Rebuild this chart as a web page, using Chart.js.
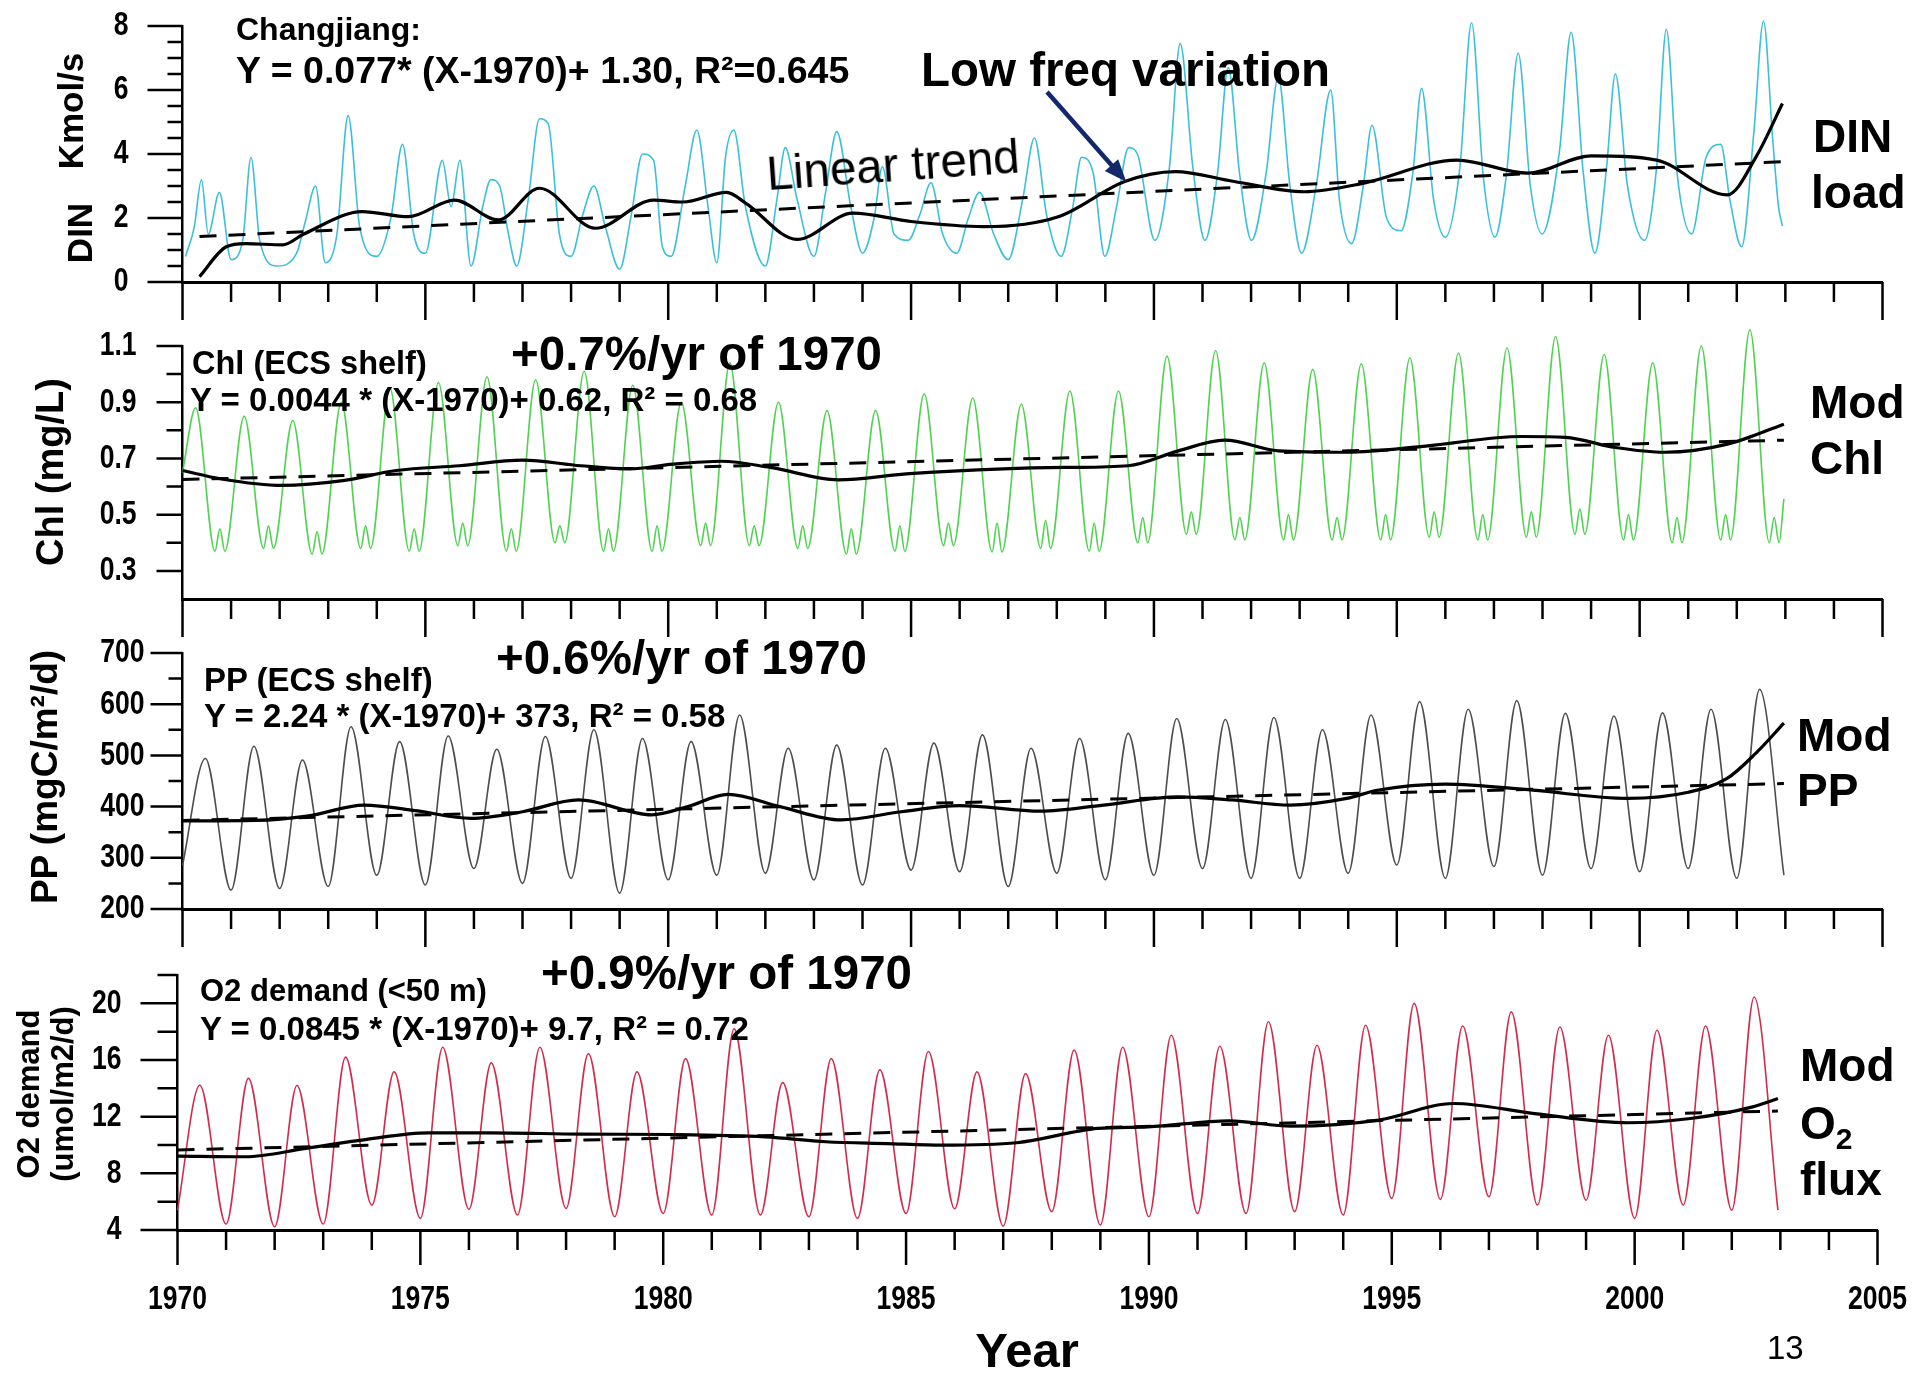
<!DOCTYPE html>
<html>
<head>
<meta charset="utf-8">
<script src="https://cdn.jsdelivr.net/npm/chart.js@4.4.1/dist/chart.umd.min.js"></script>
<style>
  body { margin: 0; background: #fff; }
  #wrap { position: relative; width: 1920px; height: 1373px; background: #fff; overflow: hidden; }
  canvas { position: absolute; }
  .t { position: absolute; white-space: nowrap; line-height: 1; color: #000;
       font-family: "Liberation Sans", Arial, Helvetica, sans-serif; font-weight: bold; }
  .n { font-weight: normal; }
  .rot { transform: translate(-50%, -50%) rotate(-90deg); }
  .c { transform: translate(-50%, 0); }
</style>
</head>
<body>
<div id="wrap">
  <canvas id="c0"></canvas>
  <canvas id="c1"></canvas>
  <canvas id="c2"></canvas>
  <canvas id="c3"></canvas>

  <!-- panel 1 -->
  <div class="t" style="left:236px;top:13px;font-size:32px">Changjiang:</div>
  <div class="t" style="left:236px;top:52px;font-size:37.5px">Y = 0.077* (X-1970)+ 1.30, R²=0.645</div>
  <div class="t" style="left:921px;top:46px;font-size:47.5px">Low freq variation</div>
  <div class="t n" style="left:893px;top:165px;font-size:47.5px;transform:translate(-50%,-50%) rotate(-4deg)">Linear trend</div>
  <div class="t" style="left:1813px;top:113px;font-size:46px">DIN</div>
  <div class="t" style="left:1811px;top:169px;font-size:46px">load</div>
  <div class="t rot" style="left:70px;top:111px;font-size:35px">Kmol/s</div>
  <div class="t rot" style="left:79px;top:233px;font-size:35px">DIN</div>

  <!-- panel 2 -->
  <div class="t" style="left:511px;top:330px;font-size:47.5px">+0.7%/yr of 1970</div>
  <div class="t" style="left:192px;top:347px;font-size:32.5px">Chl (ECS shelf)</div>
  <div class="t" style="left:190px;top:383px;font-size:33px">Y = 0.0044 * (X-1970)+ 0.62, R² = 0.68</div>
  <div class="t" style="left:1810px;top:379px;font-size:46px">Mod</div>
  <div class="t" style="left:1810px;top:435px;font-size:46px">Chl</div>
  <div class="t rot" style="left:50px;top:472px;font-size:38px">Chl (mg/L)</div>

  <!-- panel 3 -->
  <div class="t" style="left:496px;top:634px;font-size:47.5px">+0.6%/yr of 1970</div>
  <div class="t" style="left:204px;top:663px;font-size:33px">PP (ECS shelf)</div>
  <div class="t" style="left:204px;top:699px;font-size:33px">Y = 2.24 * (X-1970)+ 373, R² = 0.58</div>
  <div class="t" style="left:1797px;top:712px;font-size:46px">Mod</div>
  <div class="t" style="left:1797px;top:767px;font-size:46px">PP</div>
  <div class="t rot" style="left:44px;top:777px;font-size:37px">PP (mgC/m²/d)</div>

  <!-- panel 4 -->
  <div class="t" style="left:541px;top:949px;font-size:47.5px">+0.9%/yr of 1970</div>
  <div class="t" style="left:200px;top:975px;font-size:31px">O2 demand (&lt;50 m)</div>
  <div class="t" style="left:200px;top:1012px;font-size:33px">Y = 0.0845 * (X-1970)+ 9.7, R² = 0.72</div>
  <div class="t" style="left:1800px;top:1042px;font-size:46px">Mod</div>
  <div class="t" style="left:1800px;top:1100px;font-size:46px">O<sub style="font-size:30px">2</sub></div>
  <div class="t" style="left:1800px;top:1156px;font-size:46px">flux</div>
  <div class="t rot" style="left:28px;top:1094px;font-size:31px">O2 demand</div>
  <div class="t rot" style="left:62px;top:1094px;font-size:31px">(umol/m2/d)</div>

  <!-- x axis -->
  <div class="t c" style="left:1027px;top:1326px;font-size:49px">Year</div>
  <div class="t n" style="left:1767px;top:1331px;font-size:33px">13</div>
</div>

<script>
const FONT = '"Liberation Sans", Arial, Helvetica, sans-serif';

const years = [1970, 1971, 1972, 1973, 1974, 1975, 1976, 1977, 1978, 1979,
               1980, 1981, 1982, 1983, 1984, 1985, 1986, 1987, 1988, 1989,
               1990, 1991, 1992, 1993, 1994, 1995, 1996, 1997, 1998, 1999,
               2000, 2001, 2002];
const yearTicks = [1970, 1975, 1980, 1985, 1990, 1995, 2000, 2005];

// DIN load (Kmol/s)
const dinT = [1970.06, 1970.24, 1970.39, 1970.53, 1970.76, 1971.0, 1971.24, 1971.41, 1971.59, 1971.94,
              1972.35, 1972.53, 1972.74, 1972.94, 1973.18, 1973.41, 1973.65, 1974.0, 1974.29, 1974.53,
              1974.76, 1975.0, 1975.35, 1975.53, 1975.71, 1975.94, 1976.18, 1976.35, 1976.53, 1976.71,
              1976.88, 1977.12, 1977.35, 1977.53, 1977.76, 1978.0, 1978.24, 1978.47, 1978.71, 1979.0,
              1979.24, 1979.47, 1979.7, 1979.88, 1980.06, 1980.35, 1980.59, 1980.82, 1981.0, 1981.18,
              1981.35, 1981.59, 1982.0, 1982.24, 1982.41, 1982.65, 1983.0, 1983.24, 1983.47, 1983.76,
              1984.0, 1984.24, 1984.41, 1984.65, 1984.94, 1985.18, 1985.41, 1985.65, 1985.94, 1986.18,
              1986.41, 1986.7, 1987.0, 1987.3, 1987.54, 1987.79, 1988.09, 1988.33, 1988.51, 1988.75,
              1988.99, 1989.23, 1989.48, 1989.66, 1990.02, 1990.32, 1990.54, 1990.8, 1991.05, 1991.31,
              1991.53, 1991.77, 1992.01, 1992.31, 1992.56, 1992.8, 1993.04, 1993.34, 1993.64, 1993.82,
              1994.07, 1994.31, 1994.49, 1994.79, 1995.09, 1995.33, 1995.51, 1995.76, 1996.0, 1996.3,
              1996.54, 1996.78, 1997.02, 1997.26, 1997.5, 1997.75, 1997.99, 1998.35, 1998.59, 1998.84,
              1999.08, 1999.32, 1999.5, 1999.75, 2000.1, 2000.35, 2000.55, 2000.77, 2001.07, 2001.37,
              2001.67, 2001.86, 2002.1, 2002.35, 2002.55, 2002.74, 2002.86, 2002.94];
const dinV = [0.8, 1.7, 3.2, 1.5, 2.8, 0.7, 1.3, 3.9, 1.3, 0.5,
              0.9, 1.9, 3.0, 0.6, 1.5, 5.2, 1.7, 0.8, 2.0, 4.3,
              1.5, 0.9, 3.8, 2.35, 3.8, 0.5, 2.35, 3.2, 3.0, 1.5,
              0.5, 2.6, 5.1, 4.95, 1.5, 0.8, 2.1, 3.0, 1.7, 0.4,
              2.1, 4.0, 3.8, 1.1, 0.8, 3.0, 4.75, 2.35, 0.6, 3.9,
              4.75, 2.35, 0.5, 2.6, 4.2, 2.6, 0.8, 2.8, 4.7, 2.35,
              0.9, 2.0, 3.6, 1.5, 1.3, 2.1, 3.1, 1.5, 0.9, 2.0,
              2.8, 1.5, 0.7, 2.6, 4.5, 2.1, 0.8, 2.35, 3.9, 3.4,
              0.8, 2.35, 4.2, 4.0, 1.3, 3.6, 7.45, 3.6, 1.3, 3.4,
              6.7, 3.3, 1.3, 3.4, 6.4, 3.0, 0.9, 3.0, 6.0, 2.55,
              1.2, 3.0, 4.9, 2.0, 1.6, 3.4, 6.05, 2.55, 1.4, 3.6,
              8.1, 3.3, 1.4, 3.4, 7.15, 3.0, 1.5, 4.1, 7.8, 3.4,
              0.9, 3.6, 6.5, 3.0, 1.3, 3.6, 7.9, 3.4, 1.5, 3.9,
              4.3, 2.55, 1.1, 4.65, 8.15, 4.45, 2.35, 1.75];
const dinLfT = [1970.35, 1970.9, 1971.3, 1972.06, 1972.5, 1973.7, 1974.65, 1975.6, 1976.5, 1977.35,
                1978.5, 1979.7, 1980.3, 1981.2, 1981.6, 1982.65, 1983.8, 1985.0, 1986.5, 1988.03,
                1989.4, 1990.44, 1991.65, 1993.1, 1994.3, 1996.24, 1997.7, 1999.0, 2000.35, 2001.8,
                2002.4, 2002.94];
const dinLf = [0.17, 1.1, 1.2, 1.16, 1.5, 2.2, 2.04, 2.56, 1.94, 2.93,
               1.68, 2.56, 2.5, 2.8, 2.46, 1.33, 2.15, 1.89, 1.73, 2.04,
               3.14, 3.45, 3.14, 2.82, 3.08, 3.81, 3.4, 3.94, 3.81, 2.72,
               3.92, 5.58];
const dinTrendT = [1970.35, 2002.95];
const dinTrend = [1.42, 3.76];
const dinTicks = [0, 2, 4, 6, 8];

// modelled Chl (mg/L): spring peak, then the two autumn dips with a small spike between
const chlPeak = [0.88, 0.85, 0.835, 0.90, 0.95, 0.97, 0.99, 0.98, 1.01, 0.96,
                 0.90, 1.04, 0.90, 0.87, 0.87, 0.93, 0.915, 0.893, 0.94, 0.94,
                 1.064, 1.084, 1.04, 1.017, 1.037, 1.058, 1.075, 1.093, 1.134, 1.07,
                 1.04, 1.10, 1.158];
const chlLow = [0.37, 0.38, 0.36, 0.38, 0.37, 0.39, 0.37, 0.40, 0.37, 0.37,
                0.39, 0.39, 0.38, 0.36, 0.37, 0.39, 0.367, 0.38, 0.37, 0.40,
                0.43, 0.41, 0.41, 0.41, 0.41, 0.42, 0.41, 0.42, 0.43, 0.41,
                0.40, 0.41, 0.40];
const chlSpike = [0.45, 0.46, 0.44, 0.46, 0.45, 0.47, 0.45, 0.46, 0.45, 0.46,
                  0.47, 0.46, 0.46, 0.45, 0.46, 0.47, 0.47, 0.48, 0.47, 0.49,
                  0.51, 0.49, 0.50, 0.49, 0.50, 0.51, 0.50, 0.51, 0.52, 0.50,
                  0.49, 0.50, 0.49];
const chlLfT = [1970.0, 1970.8, 1972.04, 1973.3, 1974.4, 1975.7, 1977.0, 1978.2, 1979.2, 1980.1,
                1981.1, 1982.1, 1983.5, 1984.9, 1986.9, 1988.2, 1989.47, 1990.5, 1991.46, 1992.56,
                1993.97, 1995.64, 1997.57, 1998.47, 1999.5, 2000.52, 2001.81, 2002.97];
const chlLf = [0.657, 0.627, 0.604, 0.621, 0.657, 0.674, 0.694, 0.674, 0.663, 0.68,
               0.69, 0.668, 0.624, 0.645, 0.663, 0.668, 0.674, 0.727, 0.765, 0.727,
               0.722, 0.745, 0.778, 0.775, 0.739, 0.722, 0.751, 0.822];
const chlTrendT = [1970.0, 2002.97];
const chlTrend = [0.625, 0.765];
const chlTicks = [0.3, 0.5, 0.7, 0.9, 1.1];

// modelled PP (mgC/m2/d): winter low and summer peak of each year
const ppLow = [285, 237, 240, 244, 266, 247, 279, 250, 260, 231,
               257, 266, 270, 257, 247, 276, 273, 244, 270, 257,
               266, 279, 260, 260, 270, 286, 260, 283, 266, 279,
               273, 279, 260];
const ppPeak = [494, 518, 491, 556, 527, 538, 512, 537, 550, 533,
                527, 579, 514, 520, 514, 524, 540, 514, 533, 543,
                572, 570, 574, 550, 579, 605, 590, 607, 582, 577,
                583, 590, 629];
const ppLfT = [1970.0, 1971.5, 1972.6, 1973.74, 1974.8, 1975.94, 1977.0, 1978.15, 1979.66, 1980.4,
               1981.23, 1982.3, 1983.56, 1984.8, 1986.0, 1987.67, 1988.96, 1990.5, 1991.6, 1992.8,
               1993.97, 1994.6, 1996.0, 1997.8, 1999.75, 2001.0, 2001.8, 2002.4, 2002.97];
const ppLf = [372, 373, 382, 403, 392, 377, 390, 413, 384, 400,
              424, 400, 374, 390, 402, 391, 403, 419, 413, 403,
              416, 432, 444, 432, 416, 428, 455, 505, 563];
const ppTrendT = [1970.0, 2002.97];
const ppTrend = [373, 445];
const ppTicks = [200, 300, 400, 500, 600, 700];

// modelled O2 demand (<50 m, umol/m2/d): winter low and summer peak
const o2Low = [5.4, 4.42, 4.23, 4.42, 5.76, 4.82, 5.46, 5.06, 5.53, 4.94,
               5.17, 5.06, 5.06, 4.94, 4.82, 5.17, 5.5, 4.28, 5.3, 4.35,
               4.94, 5.17, 5.17, 5.3, 5.06, 6.23, 6.16, 6.35, 5.76, 6.1,
               4.82, 5.76, 5.4];
const o2Peak = [14.22, 14.7, 14.2, 16.2, 15.16, 16.9, 15.8, 16.9, 16.45, 15.16,
                16.1, 18.2, 14.4, 16.1, 15.3, 16.6, 15.16, 15.04, 16.7, 16.9,
                17.75, 16.97, 18.7, 17.04, 18.45, 20.0, 18.4, 19.4, 18.33, 17.75,
                18.1, 18.4, 20.45];
const o2LfT = [1970.0, 1971.39, 1972.64, 1973.9, 1975.16, 1976.42, 1978.3, 1980.2, 1982.1, 1983.35,
               1984.6, 1985.74, 1987.28, 1988.95, 1989.98, 1991.65, 1992.93, 1994.73, 1996.27, 1997.94,
               1999.86, 2001.15, 2002.43, 2002.95];
const o2Lf = [9.22, 9.17, 9.76, 10.4, 10.86, 10.86, 10.77, 10.74, 10.58, 10.23,
              10.1, 9.99, 10.16, 11.17, 11.28, 11.71, 11.33, 11.76, 12.93, 12.22,
              11.57, 11.87, 12.69, 13.28];
const o2TrendT = [1970.0, 2002.95];
const o2Trend = [9.65, 12.4];
const o2Ticks = [4, 8, 12, 16, 20];

// arrow "Low freq variation" -> curve (data coords of panel 1)
const arrowFrom = [1987.8, 5.94];
const arrowTo = [1989.43, 3.13];

const pts = (xs, ys) => xs.map((x, i) => ({x, y: ys[i]}));

// one point per [values, phase] pair for every year, in time order
function seasonal(start, parts, end) {
  const out = start ? [{x: start[0], y: start[1]}] : [];
  years.forEach((yr, i) => {
    parts.forEach(([vals, phase]) => out.push({x: yr + phase, y: vals[i]}));
  });
  out.push({x: end[0], y: end[1]});
  return out;
}

function lines(raw, color, lf, trend) {
  return [
    {data: trend, borderColor: '#000', borderWidth: 3, borderDash: [17, 12], pointRadius: 0, clip: false},
    {data: lf, borderColor: '#000', borderWidth: 3.2, pointRadius: 0, cubicInterpolationMode: 'monotone', clip: false},
    {data: raw, borderColor: color, borderWidth: 1.6, pointRadius: 0, cubicInterpolationMode: 'monotone', clip: false}
  ];
}

// condensed label, like the narrow face of the original
function narrowText(ctx, text, x, y, align) {
  ctx.save();
  ctx.translate(x, y);
  ctx.scale(0.78, 1);
  ctx.textAlign = align;
  ctx.fillText(text, 0, 0);
  ctx.restore();
}

// tick marks (every year on x, long every 5; major + minor on y, all pointing out)
// and the tick labels of the library's ticks, drawn condensed
const tickMarks = {
  id: 'tickMarks',
  afterDraw(chart, args, o) {
    const {ctx, chartArea: {left, bottom}, scales: {x, y}} = chart;
    ctx.save();
    ctx.strokeStyle = '#000';
    ctx.lineWidth = 2.5;
    ctx.beginPath();
    for (let v = x.min; v <= x.max; v++) {
      const px = x.getPixelForValue(v);
      ctx.moveTo(px, bottom);
      ctx.lineTo(px, bottom + (v % 5 === 0 ? o.xMajor : o.xMinor));
    }
    const majors = y.ticks.map(t => t.value);
    const n = Math.round((y.max - y.min) / o.yStep);
    for (let k = 0; k <= n; k++) {
      const v = y.min + k * o.yStep;
      const isMajor = majors.some(m => Math.abs(m - v) < 1e-6);
      if (k === 0 && !isMajor) continue;
      const py = y.getPixelForValue(v);
      ctx.moveTo(left, py);
      ctx.lineTo(left - (isMajor ? o.yMajor : o.yMinor), py);
    }
    ctx.stroke();

    ctx.fillStyle = '#000';
    ctx.font = 'bold 34px ' + FONT;
    ctx.textBaseline = 'middle';
    y.ticks.forEach(t => narrowText(ctx, String(t.value), left - o.yPad, y.getPixelForValue(t.value), 'right'));
    if (o.xLabels) {
      x.ticks.forEach(t => narrowText(ctx, String(t.value), x.getPixelForValue(t.value), bottom + o.xLabelOffset, 'center'));
    }
    ctx.restore();
  }
};

const arrow = {
  id: 'arrow',
  afterDatasetsDraw(chart, args, o) {
    if (!o.from) return;
    const {ctx, scales: {x, y}} = chart;
    const x0 = x.getPixelForValue(o.from[0]), y0 = y.getPixelForValue(o.from[1]);
    const x1 = x.getPixelForValue(o.to[0]), y1 = y.getPixelForValue(o.to[1]);
    const a = Math.atan2(y1 - y0, x1 - x0);
    const h = 24;
    ctx.save();
    ctx.strokeStyle = o.color;
    ctx.fillStyle = o.color;
    ctx.lineWidth = 4.5;
    ctx.beginPath();
    ctx.moveTo(x0, y0);
    ctx.lineTo(x1 - Math.cos(a) * h * 0.7, y1 - Math.sin(a) * h * 0.7);
    ctx.stroke();
    ctx.beginPath();
    ctx.moveTo(x1, y1);
    ctx.lineTo(x1 - h * Math.cos(a - 0.38), y1 - h * Math.sin(a - 0.38));
    ctx.lineTo(x1 - h * Math.cos(a + 0.38), y1 - h * Math.sin(a + 0.38));
    ctx.closePath();
    ctx.fill();
    ctx.restore();
  }
};

const panels = [
  {canvas: 'c0', left: 0, top: 6, height: 321, xH: 45,
   data: lines(pts(dinT, dinV), '#3bbfdb', pts(dinLfT, dinLf), pts(dinTrendT, dinTrend)),
   yMin: 0, yMax: 8, yTicks: dinTicks, yStep: 0.5, yPad: 54, yMajor: 35, yMinor: 15,
   arrow: {from: arrowFrom, to: arrowTo, color: '#13276b'}},
  {canvas: 'c1', left: 0, top: 326, height: 318, xH: 45,
   data: lines(seasonal([1970.0, 0.65],
                        [[chlPeak, 0.27], [chlLow, 0.67], [chlSpike, 0.77], [chlLow, 0.87]],
                        [2002.97, 0.556]), '#4fd24f',
               pts(chlLfT, chlLf), pts(chlTrendT, chlTrend)),
   yMin: 0.2, yMax: 1.1, yTicks: chlTicks, yStep: 0.1, yPad: 46, yMajor: 26, yMinor: 16},
  {canvas: 'c2', left: 0, top: 633, height: 321, xH: 45,
   data: lines(seasonal(null, [[ppLow, 0.0], [ppPeak, 0.47]], [2002.97, 266]), '#4d4d4d',
               pts(ppLfT, ppLf), pts(ppTrendT, ppTrend)),
   yMin: 200, yMax: 700, yTicks: ppTicks, yStep: 50, yPad: 38, yMajor: 32, yMinor: 14},
  {canvas: 'c3', left: -5, top: 955, height: 418, xH: 143, labels: true,
   data: lines(seasonal(null, [[o2Low, 0.0], [o2Peak, 0.46]], [2002.95, 5.4]), '#d42a4c',
               pts(o2LfT, o2Lf), pts(o2TrendT, o2Trend)),
   yMin: 4, yMax: 22, yTicks: o2Ticks, yStep: 2, yPad: 56, yMajor: 37, yMinor: 20}
];

const AXIS_LEFT = 182.5;
const PAD_RIGHT = 37.5;

panels.forEach(p => {
  const el = document.getElementById(p.canvas);
  el.width = 1920;
  el.height = p.height;
  el.style.left = p.left + 'px';
  el.style.top = p.top + 'px';

  new Chart(el.getContext('2d'), {
    type: 'line',
    data: {datasets: p.data},
    plugins: [tickMarks, arrow],
    options: {
      responsive: false,
      animation: false,
      devicePixelRatio: 1,
      layout: {padding: {left: 0, right: PAD_RIGHT, top: 20, bottom: 0}},
      plugins: {
        legend: {display: false},
        tooltip: {enabled: false},
        tickMarks: {xMajor: p.labels ? 35 : 38, xMinor: 20, yStep: p.yStep, yMajor: p.yMajor, yMinor: p.yMinor,
                    yPad: p.yPad, xLabels: !!p.labels, xLabelOffset: 70},
        arrow: p.arrow || {}
      },
      scales: {
        x: {
          type: 'linear', min: 1970, max: 2005,
          afterBuildTicks: s => { s.ticks = yearTicks.map(v => ({value: v})); },
          afterFit: s => { s.height = p.xH; s.paddingLeft = 0; s.paddingRight = 0; },
          grid: {display: false, drawTicks: false},
          border: {display: true, color: '#000', width: 3},
          ticks: {display: false}
        },
        y: {
          type: 'linear', min: p.yMin, max: p.yMax,
          afterBuildTicks: s => { s.ticks = p.yTicks.map(v => ({value: v})); },
          afterFit: s => { s.width = AXIS_LEFT; s.paddingTop = 0; s.paddingBottom = 0; },
          grid: {display: false, drawTicks: false},
          border: {display: true, color: '#000', width: 2.5},
          ticks: {display: false}
        }
      }
    }
  });
});
</script>
</body>
</html>
